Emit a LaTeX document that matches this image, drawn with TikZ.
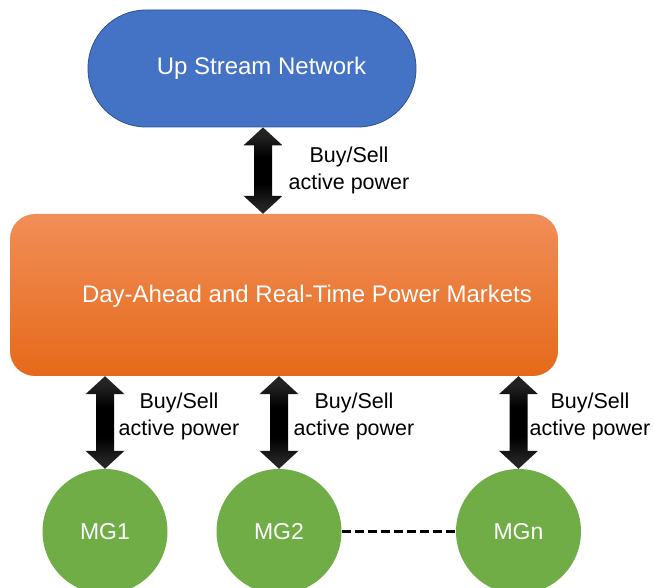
\documentclass[tikz,border=0pt]{standalone}
\usepackage{fontspec}
\setmainfont{Liberation Sans}
\usetikzlibrary{calc}
\definecolor{netblue}{HTML}{4472C4}
\definecolor{netedge}{HTML}{2F528F}
\definecolor{mkttop}{HTML}{F18E58}
\definecolor{mktbot}{HTML}{E5691A}
\definecolor{mggreen}{HTML}{70AD47}
\definecolor{tipgray}{HTML}{383838}
% black body with slightly lighter tips
\pgfdeclareverticalshading{arrowbody}{100bp}{
  color(0bp)=(tipgray); color(30bp)=(tipgray!60!black); color(42bp)=(black);
  color(58bp)=(black); color(70bp)=(tipgray!60!black); color(100bp)=(tipgray)}
\tikzset{
  network/.style={draw=netedge, line width=0.8pt, fill=netblue, rounded corners=58pt,
    minimum width=328pt, minimum height=117pt, text=white, font=\fontsize{24}{28}\selectfont},
  market/.style={rounded corners=25pt, top color=mkttop, bottom color=mktbot,
    minimum width=548pt, minimum height=162pt},
  marketlabel/.style={text=white, font=\fontsize{24}{28}\selectfont},
  grid/.style={circle, fill=mggreen, minimum size=125pt, inner sep=0pt, text=white,
    font=\fontsize{23}{27}\selectfont},
  tradelabel/.style={align=center, font=\fontsize{21.5}{27}\selectfont, inner sep=0pt},
  link/.style={line width=2.5pt, dash pattern=on 9pt off 4pt}
}
% shaded double-headed block arrow between two named points (upper first)
\newcommand\tradearrow[2]{%
  \shade[shading=arrowbody]
    let \p1=(#1), \p2=(#2) in
    (\x1,\y1) -- (\x1+19.5pt,\y1-18pt) -- (\x1+9pt,\y1-18pt)
    -- (\x2+9pt,\y2+18pt) -- (\x2+19.5pt,\y2+18pt) -- (\x2,\y2)
    -- (\x2-19.5pt,\y2+18pt) -- (\x2-9pt,\y2+18pt)
    -- (\x1-9pt,\y1-18pt) -- (\x1-19.5pt,\y1-18pt) -- cycle;}
\begin{document}
\begin{tikzpicture}[x=1pt, y=-1pt]
  \useasboundingbox (0,0) rectangle (654,588);

  \node[network] (usn) at (252,68.5) {\hspace*{19pt}Up Stream Network};
  \node[market] (mkt) at (284,295) {};
  \node[marketlabel] (mkttext) at (307,296) {Day-Ahead and Real-Time Power Markets};

  \node[grid] (mg1) at (105,531.5) {MG1};
  \node[grid] (mg2) at (279,531.5) {MG2};
  \node[grid] (mgn) at (518.5,531.5) {MGn};

  % arrow between the upstream network and the markets
  \path (usn.south) ++(11,0) coordinate (a0t);
  \coordinate (a0b) at (a0t |- mkt.north);
  \tradearrow{a0t}{a0b}
  \node[tradelabel] (l0) at (349,170) {Buy/Sell\\active power};

  % arrows between the markets and each microgrid
  \coordinate (a1t) at (mg1.north |- mkt.south);
  \tradearrow{a1t}{mg1.north}
  \coordinate (a2t) at (mg2.north |- mkt.south);
  \tradearrow{a2t}{mg2.north}
  \coordinate (a3t) at (mgn.north |- mkt.south);
  \tradearrow{a3t}{mgn.north}

  \node[tradelabel] (l1) at (179,416) {Buy/Sell\\active power};
  \node[tradelabel] (l2) at (354,416) {Buy/Sell\\active power};
  \node[tradelabel] (l3) at (590,416) {Buy/Sell\\active power};

  \draw[link] (mg2.east) -- (mgn.west);
\end{tikzpicture}
\end{document}
